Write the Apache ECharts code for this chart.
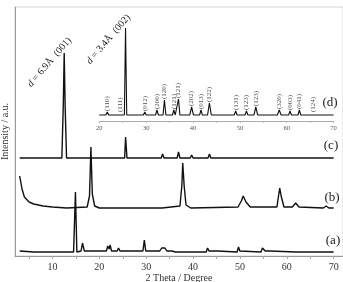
<!DOCTYPE html>
<html>
<head>
<meta charset="utf-8">
<script src="https://cdn.jsdelivr.net/npm/echarts@6/dist/echarts.min.js"></script>
<style>
  html, body { margin: 0; padding: 0; background: #fff; }
  #chart { width: 343px; height: 282px; }
</style>
</head>
<body>
<div id="chart"></div>
<script>
// XRD patterns, [2theta, intensity a.u.] (stacked as drawn)
const traceA = [[3,5],[6,4],[14.5,4],[14.9,64],[15.2,4],[16.1,5],[16.4,13],[16.8,5],[18.6,5],[18.9,7],[19.3,5],
  [21.5,5],[21.8,10],[22.1,7],[22.3,11],[22.6,5],[23.8,5],[24.1,8],[24.4,5],[25.3,5],[25.6,7],[26,5],
  [27.2,5],[27.5,7],[27.8,5],[29.3,5],[29.6,16],[29.9,5],[32.9,5],[33.3,8],[33.6,6],[34,8],[34.4,5],
  [35.5,5],[35.8,6],[36.2,4],[39.8,4],[40,6],[40.2,4],[42.8,4],[43.1,8],[43.4,5],[45.3,5],[45.5,6],[45.7,4],
  [49.4,4],[49.7,9],[50,5],[54.5,4],[54.8,8],[55.1,9],[55.4,5],[56.4,5],[56.6,6],[56.8,4],[62,4],[62.2,5],
  [62.4,4],[70,4]];
const traceB = [[3,80],[3.5,67],[4,59],[5,54],[6,52],[8,50],[10,49],[13,48],[17.4,49],[17.9,60],[18.2,109],
  [18.5,62],[19,50],[20,48],[29.2,48],[29.5,50],[29.8,48],[32.7,48],[33,50],[33.4,48],[37.2,50],[37.6,70],
  [37.8,93],[38.1,70],[38.5,51],[39.5,48],[49.6,49],[50.3,55],[50.7,60],[51.3,54],[52.2,49],[57.9,49],
  [58.3,62],[58.5,68],[58.8,60],[59.4,49],[61.2,49],[61.9,53],[62.6,49],[67.8,48],[68.4,50],[69,48],[70,48]];
const traceC = [[3,98],[12,98],[12.3,150],[12.5,203],[12.7,150],[13,98],[21.4,98],[21.6,100],[21.8,98],
  [25.4,98],[25.6,119],[25.9,98],[29.4,98],[29.6,100],[29.8,98],[32.1,98],[32.3,99],[32.6,98],[33.2,98],
  [33.5,102],[33.8,98],[35.6,98],[35.8,100],[36,98],[36.6,98],[36.9,104],[37.2,98],[39.4,98],[39.7,101],
  [40,98],[41.5,98],[41.7,100],[41.9,98],[43.2,98],[43.5,102],[43.8,98],[48.8,98],[49.1,99],[49.4,98],
  [51.2,98],[51.4,99],[51.6,98],[53,98],[53.4,100],[53.8,98],[58.1,98],[58.4,100],[58.7,98],[60.5,98],
  [60.7,99],[60.9,98],[62.5,98],[62.7,99],[63,98],[70,98]];
// inset (d), own axis
const traceD = [[20,6],[21.4,6],[21.7,9],[22,6],[23.2,6],[23.6,7],[24.1,6],[24.4,8],[24.7,6],[25.35,6],
  [25.6,93],[25.85,6],[29.4,6],[29.7,9],[30,6],[32,6],[32.3,11],[32.6,6],[33.6,6],[33.9,21],[34.2,6],
  [35.6,6],[35.9,11],[36.2,6],[36.6,6],[36.9,22],[37.2,6],[39.3,6],[39.7,14],[40.1,6],[41.4,6],[41.7,11],
  [42,6],[43.1,6],[43.5,18],[43.9,6],[48.8,6],[49.1,10],[49.4,6],[51.1,6],[51.4,10],[51.7,6],[53,6],
  [53.4,14],[53.8,6],[58,6],[58.4,11],[58.8,6],[60.4,6],[60.7,10],[61,6],[62.4,6],[62.7,11],[63,6],
  [65.2,6],[65.6,8],[66,6],[70,6]];
const hklPos = [21.7,24.4,29.7,32.3,33.9,35.9,36.9,39.7,41.7,43.5,49.1,51.4,53.4,58.4,60.7,62.7,65.6];
const hklTop = [9,8,9,11,21,11,22,14,11,18,10,10,14,11,10,11,8];
const hklNames = ['(110)','(111)','(012)','(200)','(120)','(121)','(121)','(202)','(013)','(122)',
  '(131)','(123)','(123)','(320)','(003)','(041)','(124)'];
const mainTicks = [10,20,30,40,50,60,70];
const mainMinorTicks = [5,10,15,20,25,30,35,40,45,50,55,60,65,70];
const insetTicks = [20,30,40,50,60,70];
const traceNames = ['(a)','(b)','(c)','(d)'];

const serif = '"Liberation Serif", "DejaVu Serif", serif';
const chart = echarts.init(document.getElementById('chart'));

function trace(data, idx) {
  return {
    type: 'line', data: data, xAxisIndex: idx, yAxisIndex: idx,
    symbol: 'none', silent: true,
    lineStyle: { color: '#111', width: idx ? 1.1 : 1.4 }
  };
}
function tag(text, x, y) {
  return { type: 'text', x: x, y: y, style: { text: text, font: '13px ' + serif, fill: '#222', align: 'center', verticalAlign: 'middle' } };
}
function note(d, hkl, x, y) {
  return {
    type: 'text', x: x, y: y, rotation: 0.86,
    style: {
      text: '{i|d} = ' + d + '  ' + hkl,
      font: '10px ' + serif, fill: '#222', align: 'left', verticalAlign: 'bottom',
      rich: { i: { fontStyle: 'italic', fontFamily: serif, fontSize: 10 } }
    }
  };
}

chart.setOption({
  animation: false,
  grid: [
    { left: 15, right: 0, top: 7, bottom: 26, outerBoundsMode: 'none', show: true, borderColor: '#d4d4d4', borderWidth: 1 },
    { left: 99.3, right: 9.4, top: 21, bottom: 161, outerBoundsMode: 'none' }
  ],
  xAxis: [
    {
      gridIndex: 0, type: 'value', min: 2, max: 72,
      name: '2 Theta / Degree', nameLocation: 'middle', nameGap: 17, nameMoveOverlap: false,
      nameTextStyle: { fontFamily: serif, fontSize: 10, color: '#333' },
      axisLine: { lineStyle: { color: '#999' } },
      axisTick: { customValues: mainMinorTicks, length: 3, lineStyle: { color: '#aaa' } },
      axisLabel: { customValues: mainTicks, fontFamily: serif, fontSize: 10, color: '#333', margin: 6 },
      splitLine: { show: false }
    },
    {
      gridIndex: 1, type: 'value', min: 20, max: 70,
      axisLine: { onZero: false, lineStyle: { color: '#aaa', width: 1 } },
      axisTick: { customValues: mainMinorTicks.filter(function (v) { return v >= 20; }), length: 2, lineStyle: { color: '#bbb' } },
      axisLabel: { customValues: insetTicks, fontFamily: serif, fontSize: 6.5, color: '#555', margin: 4 },
      splitLine: { show: false }
    }
  ],
  yAxis: [
    {
      gridIndex: 0, type: 'value', min: 0, max: 249,
      name: 'Intensity / a.u.', nameLocation: 'middle', nameGap: 5, nameMoveOverlap: false,
      nameTextStyle: { fontFamily: serif, fontSize: 10, color: '#333' },
      axisLine: { show: true, lineStyle: { color: '#999' } },
      axisTick: { show: false }, axisLabel: { show: false }, splitLine: { show: false }
    },
    { gridIndex: 1, type: 'value', min: 0, max: 100, show: false }
  ],
  series: [
    trace(traceA, 0),
    trace(traceB, 0),
    trace(traceC, 0),
    trace(traceD, 1),
    {
      type: 'scatter', xAxisIndex: 1, yAxisIndex: 1, symbolSize: 0, silent: true,
      data: hklPos.map(function (x, i) { return { value: [x, hklTop[i]], name: hklNames[i] }; }),
      label: {
        show: true, formatter: '{b}', position: 'top', distance: 1, rotate: 90,
        align: 'left', verticalAlign: 'middle', fontFamily: serif, fontSize: 7, color: '#222'
      }
    }
  ],
  graphic: [
    tag(traceNames[0], 333, 241),
    tag(traceNames[1], 332, 198),
    tag(traceNames[2], 331, 146),
    tag(traceNames[3], 330, 103),
    note('6.9\u00c5', '(001)', 33, 89),
    note('3.4\u00c5', '(002)', 92, 66)
  ]
});
</script>
</body>
</html>
